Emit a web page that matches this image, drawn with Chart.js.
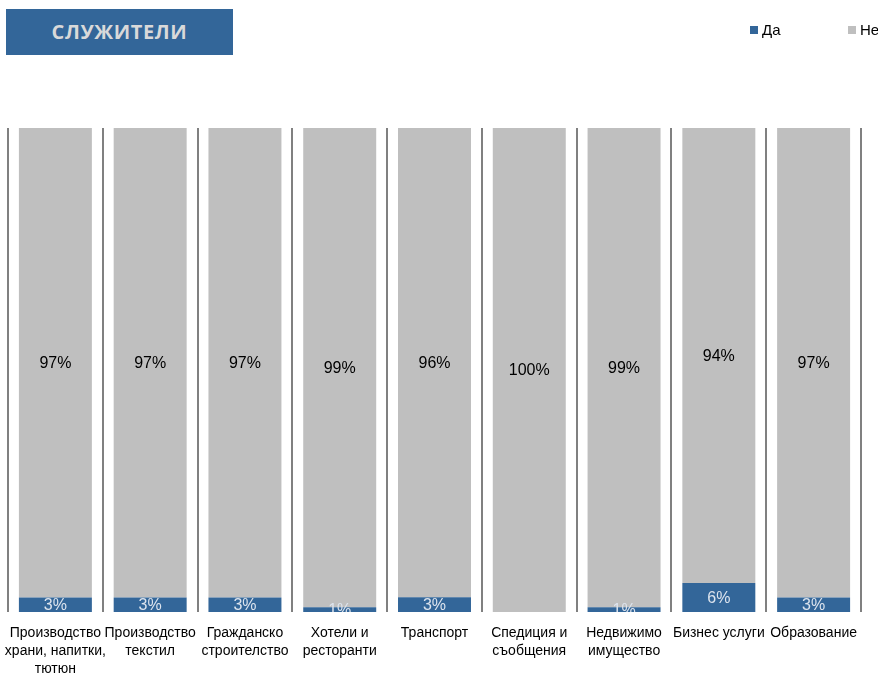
<!DOCTYPE html>
<html lang="bg">
<head>
  <meta charset="UTF-8" />
  <title>Служители</title>
  <script src="https://cdn.jsdelivr.net/npm/chart.js"></script>
  <style>
    html, body {
      margin: 0;
      padding: 0;
      background: #fff;
    }
    .wrap {
      position: relative;
      width: 878px;
      height: 675px;
      overflow: hidden;
    }
    .title-box {
      position: absolute;
      left: 6px;
      top: 9px;
      width: 227px;
      height: 46px;
      background: #336699;
      color: #d9d9d9;
      font-family: "Open Sans", sans-serif;
      font-weight: 700;
      font-size: 20px;
      letter-spacing: 0.6px;
      line-height: 46px;
      text-align: center;
    }
    .legend {
      position: absolute;
      top: 21px;
      white-space: nowrap;
      font-family: "Liberation Sans Narrow", "Liberation Sans", sans-serif;
      font-size: 15px;
      color: #000;
    }
    .legend span.box {
      display: inline-block;
      width: 8px;
      height: 8px;
      margin-right: 4px;
      vertical-align: 1px;
    }
    canvas {
      position: absolute;
      left: 0;
      top: 0;
    }
  </style>
</head>
<body>
  <div class="wrap">
    <canvas id="chart" width="878" height="675"></canvas>
    <div class="title-box">СЛУЖИТЕЛИ</div>
    <div class="legend" style="left:750px"><span class="box" style="background:#336699"></span>Да</div>
    <div class="legend" style="left:848px"><span class="box" style="background:#bfbfbf"></span>Не</div>
  </div>

  <script>
    const sectors = [
      ["Производство", "храни, напитки,", "тютюн"],
      ["Производство", "текстил"],
      ["Гражданско", "строителство"],
      ["Хотели и", "ресторанти"],
      ["Транспорт"],
      ["Спедиция и", "съобщения"],
      ["Недвижимо", "имущество"],
      ["Бизнес услуги"],
      ["Образование"]
    ];
    const da = [3, 3, 3, 1, 3, 0, 1, 6, 3];
    const ne = [97, 97, 97, 99, 96, 100, 99, 94, 97];

    const blue = "#336699";
    const grey = "#bfbfbf";

    // 100% stacked: each column is scaled to its own total
    const totals = da.map((v, i) => v + ne[i]);
    const daShare = da.map((v, i) => v / totals[i] * 100);
    const neShare = ne.map((v, i) => v / totals[i] * 100);

    // value labels centred in each segment, clipped to the plot area
    const segmentLabels = {
      id: "segmentLabels",
      afterDatasetsDraw(chart) {
        const ctx = chart.ctx;
        const area = chart.chartArea;
        ctx.save();
        ctx.beginPath();
        ctx.rect(area.left, area.top, area.right - area.left, area.bottom - area.top);
        ctx.clip();
        ctx.font = '16px "Liberation Sans Narrow", "Liberation Sans", sans-serif';
        ctx.textAlign = "center";
        ctx.textBaseline = "middle";
        chart.data.datasets.forEach((ds, di) => {
          const meta = chart.getDatasetMeta(di);
          meta.data.forEach((bar, i) => {
            const raw = ds.raw[i];
            if (!raw) return;
            ctx.fillStyle = ds.labelColor;
            ctx.fillText(raw + "%", bar.x, (bar.y + bar.base) / 2 + 1);
          });
        });
        ctx.restore();
      }
    };

    new Chart(document.getElementById("chart").getContext("2d"), {
      type: "bar",
      data: {
        labels: sectors,
        datasets: [
          { label: "Да", data: daShare, raw: da, backgroundColor: blue, labelColor: "#dde4ee" },
          { label: "Не", data: neShare, raw: ne, backgroundColor: grey, labelColor: "#000" }
        ]
      },
      options: {
        responsive: false,
        animation: false,
        layout: { padding: { left: 8, right: 17, top: 128, bottom: 0 } },
        datasets: {
          bar: { barPercentage: 0.77, categoryPercentage: 1.0 }
        },
        scales: {
          x: {
            stacked: true,
            grid: { offset: true, color: "#808080", lineWidth: 2, drawTicks: false },
            border: { display: false },
            ticks: {
              color: "#000",
              padding: 12,
              maxRotation: 0,
              autoSkip: false,
              font: { family: '"Liberation Sans Narrow", "Liberation Sans", sans-serif', size: 14, lineHeight: 1.3 }
            },
            afterFit(scale) {
              scale.height = 63;
              // let the long outer labels run past the plot edges
              scale.paddingLeft = 0;
              scale.paddingRight = 0;
            }
          },
          y: {
            stacked: true,
            display: false,
            min: 0,
            max: 100
          }
        },
        plugins: {
          legend: { display: false },
          tooltip: { enabled: false }
        }
      },
      plugins: [segmentLabels]
    });
  </script>
</body>
</html>
